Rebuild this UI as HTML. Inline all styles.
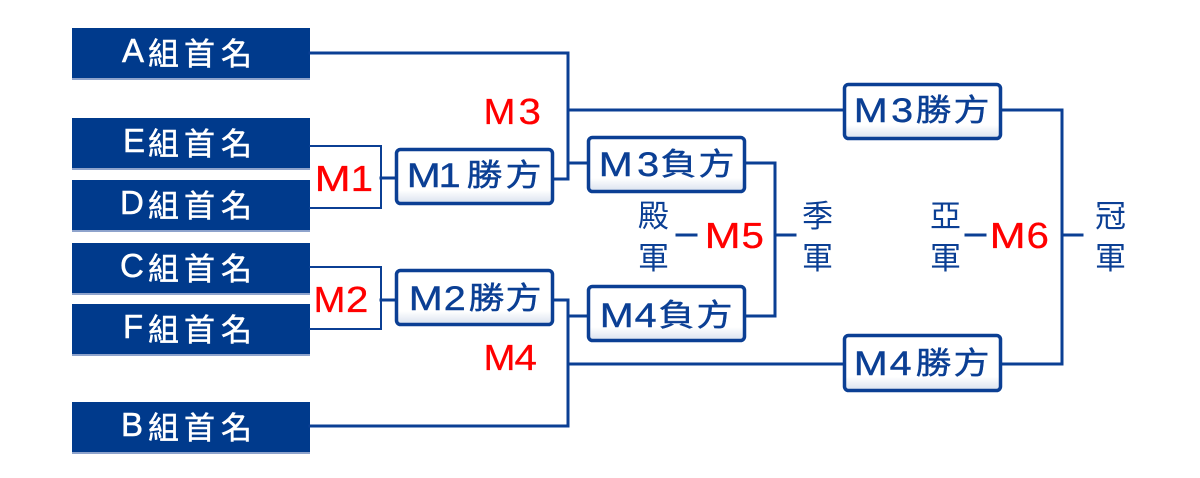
<!DOCTYPE html>
<html><head><meta charset="utf-8">
<style>
html,body{margin:0;padding:0;background:#fff;}
svg{display:block;}
text{font-family:"Liberation Sans","Noto Sans CJK TC",sans-serif;}
.cjk{font-family:"Noto Sans CJK TC","Liberation Sans",sans-serif;}
</style></head>
<body>
<svg width="1200" height="478" viewBox="0 0 1200 478" xmlns="http://www.w3.org/2000/svg">
<defs>
<linearGradient id="wg" x1="0" y1="0" x2="0" y2="1">
<stop offset="0" stop-color="#ffffff"/>
<stop offset="0.75" stop-color="#ffffff"/>
<stop offset="1" stop-color="#d9e1ee"/>
</linearGradient>
</defs>

<!-- dark team boxes -->
<g fill="#003a8c">
<rect x="72" y="28" width="238" height="50"/>
<rect x="72" y="118" width="238" height="50"/>
<rect x="72" y="180" width="238" height="50"/>
<rect x="72" y="243" width="238" height="50"/>
<rect x="72" y="304" width="238" height="50"/>
<rect x="72" y="402" width="238" height="50"/>
</g>
<g fill="#8ea3cc">
<rect x="72" y="78" width="238" height="2"/>
<rect x="72" y="168" width="238" height="2"/>
<rect x="72" y="230" width="238" height="2"/>
<rect x="72" y="293" width="238" height="2"/>
<rect x="72" y="354" width="238" height="2"/>
<rect x="72" y="452" width="238" height="2"/>
</g>

<!-- team labels -->
<g fill="#ffffff" stroke="#ffffff" stroke-width="0.5">
<text x="122" y="62" font-size="33">A</text>
<text x="123" y="152" font-size="33">E</text>
<text x="120" y="214" font-size="33">D</text>
<text x="120" y="277" font-size="33">C</text>
<text x="123" y="338" font-size="33">F</text>
<text x="121" y="436" font-size="33">B</text>
<text class="cjk" font-size="31" x="148 184 221" y="65">組首名</text>
<text class="cjk" font-size="31" x="148 184 221" y="155">組首名</text>
<text class="cjk" font-size="31" x="148 184 221" y="217">組首名</text>
<text class="cjk" font-size="31" x="148 184 221" y="280">組首名</text>
<text class="cjk" font-size="31" x="148 184 221" y="341">組首名</text>
<text class="cjk" font-size="31" x="148 184 221" y="439">組首名</text>
</g>

<!-- connectors -->
<g stroke="#0b3f94" fill="none" stroke-linecap="square">
<g stroke-width="2">
<polyline points="310,146 381,146 381,208 310,208"/>
<polyline points="310,267 381,267 381,329 310,329"/>
</g>
<g stroke-width="3">
<line x1="381" y1="178" x2="396" y2="178"/>
<line x1="381" y1="300" x2="396" y2="300"/>
<polyline points="310,53 568,53 568,179 554,179"/>
<line x1="568" y1="110" x2="843" y2="110"/>
<line x1="568" y1="163" x2="587" y2="163"/>
<polyline points="746,163 775,163 775,316 746,316"/>
<line x1="775" y1="235" x2="795" y2="235"/>
<polyline points="554,300 568,300 568,426 310,426"/>
<line x1="568" y1="316" x2="587" y2="316"/>
<line x1="568" y1="364" x2="843" y2="364"/>
<polyline points="1001,110 1062,110 1062,364 1001,364"/>
<line x1="1062" y1="235" x2="1082" y2="235"/>
<line x1="677" y1="235" x2="696" y2="235"/>
<line x1="966" y1="235" x2="985" y2="235"/>
</g>
</g>

<!-- white boxes -->
<g stroke="#0b3f94" stroke-width="3.5" fill="url(#wg)">
<rect x="396.5" y="149.5" width="156" height="54" rx="4"/>
<rect x="396.5" y="270.5" width="156" height="54" rx="4"/>
<rect x="588.5" y="137.5" width="156" height="54" rx="4"/>
<rect x="588.5" y="286.5" width="156" height="54" rx="4"/>
<rect x="844.5" y="84.5" width="156" height="54" rx="4"/>
<rect x="844.5" y="335.5" width="156" height="55" rx="4"/>
</g>

<!-- white box labels -->
<g fill="#0b3f94" stroke="#0b3f94" stroke-width="0.4">
<!-- M1勝方 -->
<text x="406.8" y="187" font-size="34" textLength="34" lengthAdjust="spacingAndGlyphs">M</text>
<text x="438.7" y="187" font-size="34" textLength="22" lengthAdjust="spacingAndGlyphs">1</text>
<text class="cjk" x="466.5" y="186" font-size="31" textLength="36" lengthAdjust="spacingAndGlyphs">勝</text>
<text class="cjk" x="505.5" y="186" font-size="31" textLength="36" lengthAdjust="spacingAndGlyphs">方</text>
<!-- M2勝方 -->
<text x="408.8" y="310" font-size="34" textLength="34" lengthAdjust="spacingAndGlyphs">M</text>
<text x="443.8" y="310" font-size="34" textLength="22" lengthAdjust="spacingAndGlyphs">2</text>
<text class="cjk" x="468.5" y="309" font-size="31" textLength="36" lengthAdjust="spacingAndGlyphs">勝</text>
<text class="cjk" x="505.5" y="309" font-size="31" textLength="36" lengthAdjust="spacingAndGlyphs">方</text>
<!-- M3負方 -->
<text x="598.8" y="176" font-size="34" textLength="34" lengthAdjust="spacingAndGlyphs">M</text>
<text x="637.2" y="176" font-size="34" textLength="22" lengthAdjust="spacingAndGlyphs">3</text>
<text class="cjk" x="660.5" y="175" font-size="31" textLength="36" lengthAdjust="spacingAndGlyphs">負</text>
<text class="cjk" x="698.5" y="175" font-size="31" textLength="36" lengthAdjust="spacingAndGlyphs">方</text>
<!-- M4負方 -->
<text x="599.8" y="327" font-size="34" textLength="34" lengthAdjust="spacingAndGlyphs">M</text>
<text x="634.6" y="327" font-size="34" textLength="22" lengthAdjust="spacingAndGlyphs">4</text>
<text class="cjk" x="658.5" y="326" font-size="31" textLength="36" lengthAdjust="spacingAndGlyphs">負</text>
<text class="cjk" x="696.5" y="326" font-size="31" textLength="36" lengthAdjust="spacingAndGlyphs">方</text>
<!-- M3勝方 -->
<text x="853.8" y="122" font-size="34" textLength="34" lengthAdjust="spacingAndGlyphs">M</text>
<text x="891.2" y="122" font-size="34" textLength="22" lengthAdjust="spacingAndGlyphs">3</text>
<text class="cjk" x="915.5" y="121" font-size="31" textLength="36" lengthAdjust="spacingAndGlyphs">勝</text>
<text class="cjk" x="953.5" y="121" font-size="31" textLength="36" lengthAdjust="spacingAndGlyphs">方</text>
<!-- M4勝方 -->
<text x="853.8" y="375" font-size="34" textLength="34" lengthAdjust="spacingAndGlyphs">M</text>
<text x="889.6" y="375" font-size="34" textLength="22" lengthAdjust="spacingAndGlyphs">4</text>
<text class="cjk" x="915.5" y="374" font-size="31" textLength="36" lengthAdjust="spacingAndGlyphs">勝</text>
<text class="cjk" x="953.5" y="374" font-size="31" textLength="36" lengthAdjust="spacingAndGlyphs">方</text>
</g>

<!-- red match labels -->
<g fill="#ff0000" stroke="#ff0000" stroke-width="0.3" font-size="36">
<text x="314.7" y="191" textLength="36" lengthAdjust="spacingAndGlyphs">M</text>
<text x="350.6" y="191" textLength="22.4" lengthAdjust="spacingAndGlyphs">1</text>
<text x="313.5" y="312" textLength="32" lengthAdjust="spacingAndGlyphs">M</text>
<text x="346" y="312" textLength="22.4" lengthAdjust="spacingAndGlyphs">2</text>
<text x="483.5" y="124" textLength="32" lengthAdjust="spacingAndGlyphs">M</text>
<text x="518.5" y="124" textLength="22.4" lengthAdjust="spacingAndGlyphs">3</text>
<text x="483.5" y="370" textLength="32" lengthAdjust="spacingAndGlyphs">M</text>
<text x="514.5" y="370" textLength="22.4" lengthAdjust="spacingAndGlyphs">4</text>
<text x="704.7" y="248" textLength="36" lengthAdjust="spacingAndGlyphs">M</text>
<text x="741.5" y="248" textLength="22.4" lengthAdjust="spacingAndGlyphs">5</text>
<text x="989.7" y="248" textLength="36" lengthAdjust="spacingAndGlyphs">M</text>
<text x="1026.5" y="248" textLength="22.4" lengthAdjust="spacingAndGlyphs">6</text>
</g>

<!-- vertical place labels -->
<g fill="#0b3f94" font-size="31">
<text class="cjk" x="638" y="227">殿</text>
<text class="cjk" x="638" y="269">軍</text>
<text class="cjk" x="802" y="227">季</text>
<text class="cjk" x="802" y="269">軍</text>
<text class="cjk" x="930" y="227">亞</text>
<text class="cjk" x="930" y="269">軍</text>
<text class="cjk" x="1095" y="227">冠</text>
<text class="cjk" x="1095" y="269">軍</text>
</g>
</svg>
</body></html>
